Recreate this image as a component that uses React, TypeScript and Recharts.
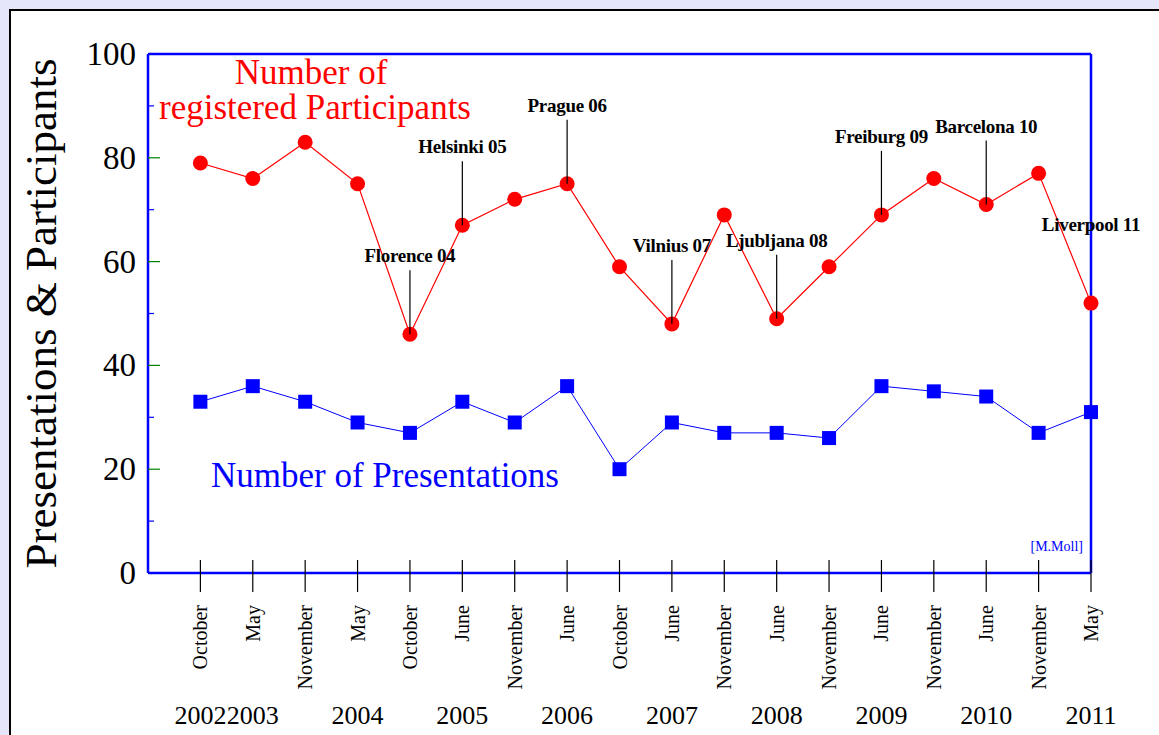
import { LineChart, Line, XAxis, YAxis, ReferenceLine, LabelList } from 'recharts';

const months = [
  'October', 'May', 'November', 'May', 'October', 'June', 'November', 'June', 'October',
  'June', 'November', 'June', 'November', 'June', 'November', 'June', 'November', 'May',
];
const years = [
  '2002', '2003', '', '2004', '', '2005', '', '2006', '', '2007', '', '2008', '', '2009', '', '2010', '', '2011',
];
const participants = [79, 76, 83, 75, 46, 67, 72, 75, 59, 48, 69, 49, 59, 69, 76, 71, 77, 52];
const presentations = [33, 36, 33, 29, 27, 33, 29, 36, 20, 29, 27, 27, 26, 36, 35, 34, 27, 31];
const venues = [
  '', '', '', '', 'Florence 04', 'Helsinki 05', '', 'Prague 06', '', 'Vilnius 07', '',
  'Ljubljana 08', '', 'Freiburg 09', '', 'Barcelona 10', '', 'Liverpool 11',
];
const yTicks = [0, 10, 20, 30, 40, 50, 60, 70, 80, 90, 100];

const data = months.map((m, i) => ({
  i,
  month: m,
  year: years[i],
  participants: participants[i],
  presentations: presentations[i],
  venue: venues[i],
}));

const FONT = '"Liberation Serif", "Times New Roman", serif';
const BLUE = '#0000ff';
const RED = '#ff0000';

const XTick = (props: any) => {
  const { x, y, payload } = props;
  const idx = payload.value as number;
  return (
    <g>
      <line x1={x} x2={x} y1={y - 13} y2={y + 19} stroke="#000" strokeWidth={1.2} />
      <text
        transform={`translate(${x},${y + 32}) rotate(-90)`}
        textAnchor="end"
        dominantBaseline="central"
        fontSize={20}
        fontFamily={FONT}
        fill="#000"
      >
        {months[idx]}
      </text>
      {years[idx] && (
        <text x={x} y={y + 151} textAnchor="middle" fontSize={26} fontFamily={FONT} fill="#000">
          {years[idx]}
        </text>
      )}
    </g>
  );
};

const YTick = (props: any) => {
  const { x, y, payload } = props;
  const v = payload.value as number;
  const major = v % 20 === 0;
  return (
    <g>
      {v > 0 && v < 100 && (
        <line x1={x} x2={x + (major ? 12 : 6)} y1={y} y2={y} stroke={major ? '#008000' : BLUE} strokeWidth={1.2} />
      )}
      {major && (
        <text x={x - 12} y={y} textAnchor="end" dominantBaseline="central" fontSize={33} fontFamily={FONT} fill="#000">
          {v}
        </text>
      )}
    </g>
  );
};

const SquareDot = (props: any) => {
  const { cx, cy } = props;
  if (cx == null || cy == null) return null;
  return <rect x={cx - 7} y={cy - 7} width={14} height={14} fill={BLUE} />;
};

const VenueLabel = (props: any) => {
  const { x, y, value, index } = props;
  if (!value) return null;
  const last = index === months.length - 1;
  return (
    <g>
      {!last && <line x1={x} x2={x} y1={y - 64} y2={y} stroke="#000" strokeWidth={1.2} />}
      <text
        x={x}
        y={y - 72}
        textAnchor="middle"
        fontSize={19}
        fontWeight="bold"
        letterSpacing={-0.3}
        fontFamily={FONT}
        fill="#000"
      >
        {value}
      </text>
    </g>
  );
};

export default function App() {
  return (
    <div
      style={{
        position: 'absolute',
        left: 0,
        top: 0,
        width: 1159,
        height: 735,
        background: '#e6e6fa',
        overflow: 'hidden',
      }}
    >
      <div
        style={{
          position: 'absolute',
          left: 9,
          top: 9,
          width: 1200,
          height: 800,
          background: '#fff',
          border: '2.5px solid #000',
        }}
      />
      <div style={{ position: 'absolute', left: 0, top: 0 }}>
        <LineChart width={1159} height={735} data={data} margin={{ top: 54, right: 68, left: 88, bottom: 32 }}>
          <XAxis
            type="number"
            dataKey="i"
            domain={[-1, 17]}
            ticks={months.map((_, i) => i)}
            interval={0}
            height={130}
            tickSize={0}
            tickMargin={0}
            tickLine={false}
            axisLine={{ stroke: BLUE, strokeWidth: 2.5 }}
            tick={<XTick />}
          />
          <YAxis
            type="number"
            domain={[0, 100]}
            ticks={yTicks}
            interval={0}
            width={60}
            tickSize={0}
            tickMargin={0}
            tickLine={false}
            axisLine={{ stroke: BLUE, strokeWidth: 2.5 }}
            tick={<YTick />}
            label={{
              value: 'Presentations & Participants',
              angle: -90,
              position: 'center',
              dx: -78,
              fontSize: 45,
              fontFamily: FONT,
              fill: '#000',
            }}
          />
          <ReferenceLine y={100} stroke={BLUE} strokeWidth={2.5} />
          <ReferenceLine x={17} stroke={BLUE} strokeWidth={2.5} />
          <Line
            dataKey="presentations"
            stroke={BLUE}
            strokeWidth={1}
            dot={<SquareDot />}
            isAnimationActive={false}
          />
          <Line
            dataKey="participants"
            stroke={RED}
            strokeWidth={1.2}
            dot={{ r: 7.5, fill: RED, stroke: 'none' }}
            isAnimationActive={false}
          >
            <LabelList dataKey="venue" content={<VenueLabel />} />
          </Line>
          <text x={311} y={84} textAnchor="middle" fontSize={35} fontFamily={FONT} fill={RED}>
            Number of
          </text>
          <text x={315} y={119} textAnchor="middle" fontSize={35} fontFamily={FONT} fill={RED}>
            registered Participants
          </text>
          <text x={385} y={487} textAnchor="middle" fontSize={35} fontFamily={FONT} fill={BLUE}>
            Number of Presentations
          </text>
          <text x={1083} y={551} textAnchor="end" fontSize={14} fontFamily={FONT} fill={BLUE}>
            [M.Moll]
          </text>
        </LineChart>
      </div>
    </div>
  );
}
